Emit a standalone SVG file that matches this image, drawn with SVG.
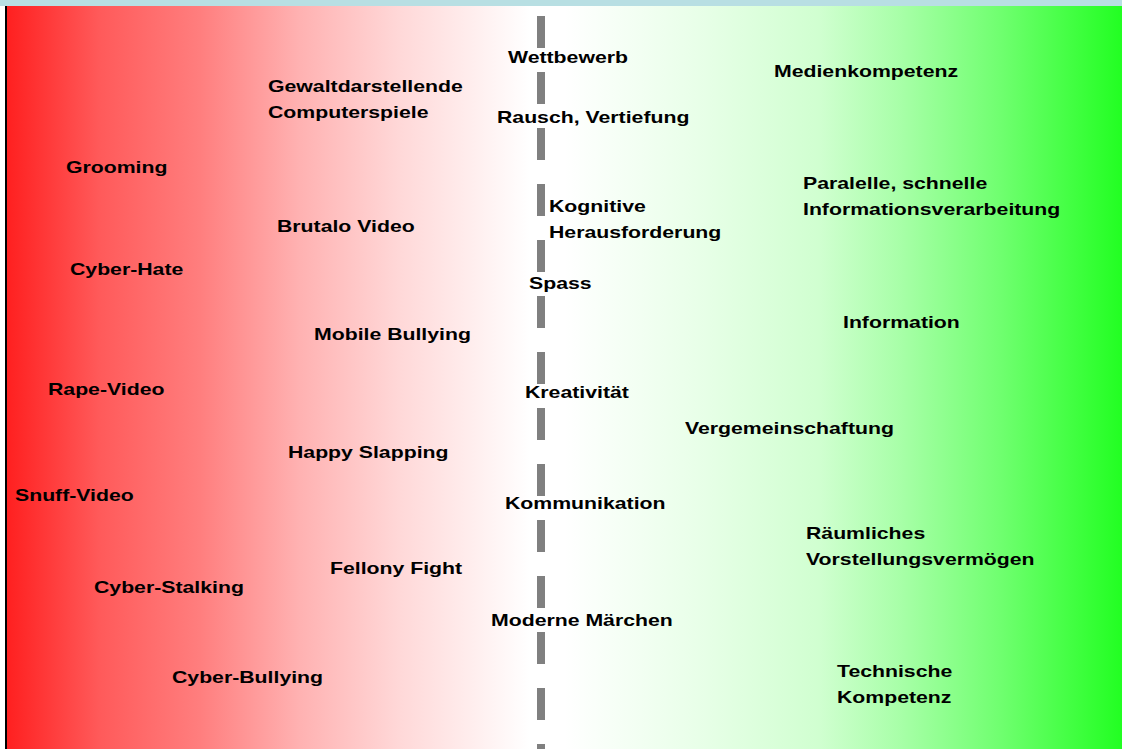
<svg xmlns="http://www.w3.org/2000/svg" width="1122" height="749" viewBox="0 0 1122 749">
<defs>
<linearGradient id="bg" gradientUnits="userSpaceOnUse" x1="7" y1="0" x2="1122" y2="0">
<stop offset="0" stop-color="#ff2020"/>
<stop offset="0.083" stop-color="#ff5a5a"/>
<stop offset="0.173" stop-color="#ff7e7e"/>
<stop offset="0.263" stop-color="#ffb2b2"/>
<stop offset="0.352" stop-color="#ffd8d8"/>
<stop offset="0.469" stop-color="#ffffff"/>
<stop offset="0.50" stop-color="#ffffff"/>
<stop offset="0.621" stop-color="#e8ffe8"/>
<stop offset="0.729" stop-color="#d0ffd0"/>
<stop offset="0.801" stop-color="#a8ffa8"/>
<stop offset="0.89" stop-color="#70ff70"/>
<stop offset="1" stop-color="#22ff22"/>
</linearGradient>
<style>
text{font-family:"Liberation Sans",Arial,sans-serif;font-weight:bold;font-size:17px;fill:#000}
</style>
</defs>
<rect x="0" y="0" width="1122" height="749" fill="#ffffff"/>
<rect x="0" y="0" width="1122" height="6" fill="#b8dfe3"/>
<rect x="7" y="6" width="1115" height="743" fill="url(#bg)"/>
<rect x="5" y="6" width="2" height="743" fill="#000"/>
<g id="connectors">
<line x1="541" y1="16" x2="541" y2="749" stroke="#808080" stroke-width="8" stroke-dasharray="32 24"/>
</g>
<g transform="scale(1.25 1)">
<g id="n-wettbewerb"><text x="406.4" y="63">Wettbewerb</text></g>
<g id="n-medienkompetenz"><text x="619.2" y="77">Medienkompetenz</text></g>
<g id="n-gewalt"><text x="214.4" y="92">Gewaltdarstellende</text><text x="214.4" y="118">Computerspiele</text></g>
<g id="n-rausch"><text x="397.6" y="123">Rausch, Vertiefung</text></g>
<g id="n-grooming"><text x="52.8" y="173">Grooming</text></g>
<g id="n-paralelle"><text x="642.4" y="189">Paralelle, schnelle</text><text x="642.4" y="215">Informationsverarbeitung</text></g>
<g id="n-kognitive"><text x="439.2" y="212">Kognitive</text><text x="439.2" y="238">Herausforderung</text></g>
<g id="n-brutalo"><text x="221.6" y="232">Brutalo Video</text></g>
<g id="n-cyberhate"><text x="56" y="275">Cyber-Hate</text></g>
<g id="n-spass"><text x="423.2" y="289">Spass</text></g>
<g id="n-information"><text x="674.4" y="328">Information</text></g>
<g id="n-mobile"><text x="251.2" y="340">Mobile Bullying</text></g>
<g id="n-rape"><text x="38.4" y="395">Rape-Video</text></g>
<g id="n-kreativitaet"><text x="420" y="398">Kreativität</text></g>
<g id="n-vergemeinschaftung"><text x="548" y="434">Vergemeinschaftung</text></g>
<g id="n-happy"><text x="230.4" y="458">Happy Slapping</text></g>
<g id="n-snuff"><text x="12" y="501">Snuff-Video</text></g>
<g id="n-kommunikation"><text x="404" y="509">Kommunikation</text></g>
<g id="n-raeumlich"><text x="644.8" y="539">Räumliches</text><text x="644.8" y="565">Vorstellungsvermögen</text></g>
<g id="n-fellony"><text x="264" y="574">Fellony Fight</text></g>
<g id="n-stalking"><text x="75.2" y="593">Cyber-Stalking</text></g>
<g id="n-maerchen"><text x="392.8" y="626">Moderne Märchen</text></g>
<g id="n-technisch"><text x="669.6" y="677">Technische</text><text x="669.6" y="703">Kompetenz</text></g>
<g id="n-cyberbullying"><text x="137.6" y="683">Cyber-Bullying</text></g>
</g>
</svg>
